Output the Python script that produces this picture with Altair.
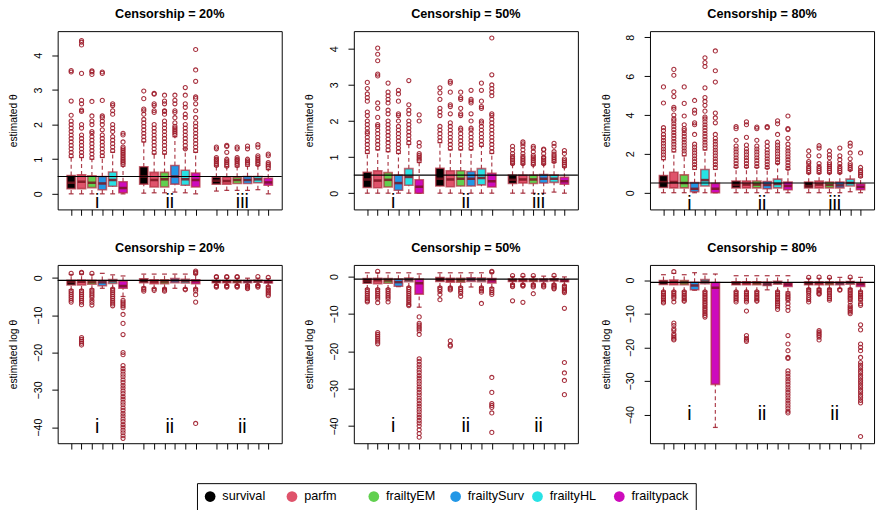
import altair as alt
import pandas as pd

METHODS = ["survival", "parfm", "frailtyEM", "frailtySurv", "frailtyHL", "frailtypack"]
COLORS = ["#000000", "#DF536B", "#61D04F", "#2297E6", "#28E2E5", "#CD0BBC"]
POSITIONS = [1, 2, 3, 4, 5, 6, 8, 9, 10, 11, 12, 13, 15, 16, 17, 18, 19, 20]
GROUP_CENTERS = [3.5, 10.5, 17.5]
TOP_GROUP_LABELS = ["i", "ii", "iii"]
BOTTOM_GROUP_LABELS = ["i", "ii", "ii"]
TITLES = ["Censorship = 20%", "Censorship = 50%", "Censorship = 80%"]

# ---------------- estimated theta, censorship 20% ----------------
T20_LO = [0.0, 0.0, 0.0, 0.0, 0.0, 0.0, 0.02, 0.03, 0.03, 0.05, 0.03, 0.0, 0.08, 0.1, 0.1, 0.1, 0.12, 0.0]
T20_Q1 = [0.15, 0.15, 0.18, 0.12, 0.22, 0.03, 0.28, 0.2, 0.2, 0.28, 0.25, 0.2, 0.28, 0.28, 0.3, 0.3, 0.32, 0.25]
T20_MED = [0.32, 0.35, 0.32, 0.3, 0.4, 0.17, 0.5, 0.4, 0.42, 0.5, 0.42, 0.4, 0.38, 0.37, 0.4, 0.4, 0.42, 0.33]
T20_Q3 = [0.53, 0.55, 0.52, 0.5, 0.63, 0.35, 0.78, 0.62, 0.62, 0.82, 0.68, 0.6, 0.48, 0.48, 0.48, 0.5, 0.5, 0.45]
T20_HI = [1.05, 1.05, 1.0, 1.05, 1.2, 0.8, 1.5, 1.15, 1.15, 1.65, 1.3, 1.2, 0.8, 0.78, 0.78, 0.8, 0.82, 0.7]
T20_OUT = [
    [1.1, 1.2, 1.3, 1.4, 1.5, 1.6, 1.7, 1.8, 1.9, 2.0, 2.1, 2.27, 2.68, 3.52, 3.56],
    [1.1, 1.2, 1.3, 1.4, 1.5, 1.6, 1.7, 1.9, 2.0, 2.38, 2.42, 2.6, 2.7, 3.48, 4.3, 4.38, 4.43],
    [1.05, 1.15, 1.25, 1.35, 1.45, 1.55, 1.65, 1.75, 1.8, 2.0, 2.1, 2.25, 2.67, 3.45, 3.52, 3.55],
    [1.1, 1.2, 1.3, 1.4, 1.5, 1.6, 1.7, 1.85, 2.0, 2.1, 2.2, 2.25, 2.7, 3.48, 3.52],
    [1.25, 1.35, 1.45, 1.55, 1.65, 1.8, 1.9, 2.0, 2.3, 2.4, 2.55, 2.6],
    [0.85, 0.9, 0.95, 1.0, 1.05, 1.1, 1.15, 1.2, 1.25, 1.3, 1.35, 1.5, 1.7, 1.75],
    [1.55, 1.65, 1.75, 1.85, 1.95, 2.05, 2.15, 2.3, 2.4, 2.45, 2.75, 2.97],
    [1.2, 1.3, 1.4, 1.5, 1.6, 1.7, 1.8, 1.9, 2.0, 2.35, 2.4, 2.55, 2.6, 2.88, 2.9],
    [1.2, 1.3, 1.4, 1.5, 1.6, 1.7, 1.8, 1.9, 2.0, 2.1, 2.3, 2.38, 2.4, 2.6, 2.68, 2.85],
    [1.7, 1.75, 1.8, 1.85, 1.9, 1.95, 2.05, 2.2, 2.35, 2.4, 2.6, 2.7, 2.85],
    [1.3, 1.4, 1.5, 1.6, 1.7, 1.8, 1.9, 2.0, 2.2, 2.3, 2.5, 2.6, 2.85, 3.07],
    [1.25, 1.35, 1.45, 1.55, 1.65, 1.75, 1.85, 1.95, 2.05, 2.2, 2.4, 2.6, 2.75, 2.8, 3.25, 3.58, 4.17],
    [0.82, 0.87, 0.92, 0.97, 1.0, 1.05, 1.3, 1.35],
    [0.8, 0.85, 0.9, 0.95, 1.0, 1.2, 1.37, 1.4],
    [0.82, 0.87, 0.92, 0.97, 1.0, 1.05, 1.3, 1.35],
    [0.85, 0.9, 0.95, 1.0, 1.3, 1.38],
    [0.85, 0.9, 0.95, 1.0, 1.05, 1.1, 1.35, 1.42],
    [0.75, 0.8, 0.85, 0.9, 1.1, 1.15],
]

# ---------------- estimated theta, censorship 50% ----------------
T50_LO = [0, 0, 0, 0, 0, 0, 0, 0, 0, 0, 0, 0, 0, 0, 0, 0, 0.03, 0]
T50_Q1 = [0.16, 0.15, 0.17, 0.08, 0.22, 0.0, 0.2, 0.18, 0.2, 0.2, 0.23, 0.17, 0.27, 0.28, 0.27, 0.28, 0.3, 0.25]
T50_MED = [0.38, 0.35, 0.37, 0.28, 0.45, 0.18, 0.4, 0.38, 0.4, 0.4, 0.42, 0.33, 0.37, 0.38, 0.38, 0.4, 0.4, 0.33]
T50_Q3 = [0.58, 0.62, 0.57, 0.5, 0.68, 0.37, 0.69, 0.62, 0.62, 0.6, 0.68, 0.55, 0.5, 0.5, 0.5, 0.52, 0.5, 0.44]
T50_HI = [1.1, 1.2, 1.15, 1.1, 1.35, 0.85, 1.4, 1.2, 1.2, 1.2, 1.3, 1.1, 0.8, 0.8, 0.78, 0.8, 0.85, 0.72]
T50_OUT = [
    [1.15, 1.25, 1.35, 1.45, 1.55, 1.65, 1.7, 1.8, 1.9, 2.0, 2.15, 2.25, 2.55, 2.65, 2.75, 2.9, 3.07],
    [1.25, 1.35, 1.45, 1.55, 1.65, 1.75, 1.85, 1.9, 2.1, 2.35, 2.5, 3.25, 3.3, 3.67, 3.85, 4.02],
    [1.2, 1.3, 1.4, 1.5, 1.6, 1.7, 1.8, 1.9, 2.0, 2.2, 2.3, 2.5, 2.6, 2.7, 2.8, 3.05],
    [1.15, 1.25, 1.35, 1.45, 1.55, 1.65, 1.75, 1.85, 2.0, 2.15, 2.2, 2.55, 2.75, 2.85],
    [1.4, 1.5, 1.6, 1.7, 1.8, 1.9, 2.0, 2.2, 2.3, 2.45, 3.12],
    [0.9, 0.95, 1.0, 1.05, 1.1, 1.3, 1.4, 2.0, 2.17],
    [1.45, 1.55, 1.65, 1.75, 1.85, 2.15, 2.25, 2.35, 2.6, 2.78, 2.92],
    [1.25, 1.35, 1.45, 1.55, 1.65, 1.75, 1.85, 1.95, 2.2, 2.4, 2.45, 2.8, 3.05, 3.1],
    [1.25, 1.35, 1.45, 1.55, 1.65, 1.75, 1.8, 2.15, 2.2, 2.35, 2.6, 2.65, 2.8],
    [1.25, 1.35, 1.45, 1.55, 1.65, 1.75, 1.8, 2.0, 2.2, 2.5, 2.55, 2.6, 2.85],
    [1.35, 1.45, 1.55, 1.65, 1.75, 1.85, 1.95, 2.0, 2.35, 2.4, 2.55, 2.85, 3.05],
    [1.15, 1.25, 1.35, 1.45, 1.55, 1.65, 1.75, 1.85, 1.95, 2.05, 2.15, 2.2, 2.7, 2.8, 2.9, 3.0, 3.28, 4.3],
    [0.82, 0.87, 0.92, 0.97, 1.02, 1.1, 1.2, 1.3],
    [0.82, 0.87, 0.92, 0.97, 1.02, 1.1, 1.2, 1.3, 1.37, 1.42],
    [0.8, 0.85, 0.9, 0.95, 1.0, 1.05, 1.15, 1.25, 1.3],
    [0.82, 0.87, 0.92, 0.97, 1.0, 1.1, 1.2, 1.22],
    [0.88, 0.93, 0.98, 1.03, 1.08, 1.15, 1.3, 1.38],
    [0.75, 0.8, 0.85, 0.9, 0.95, 1.1, 1.18],
]

# ---------------- estimated theta, censorship 80% ----------------
T80_LO = [0, 0, 0, 0, 0, 0, 0, 0, 0, 0, 0, 0, 0, 0, 0, 0, 0.05, 0]
T80_Q1 = [0.27, 0.25, 0.25, 0.05, 0.35, 0.0, 0.25, 0.25, 0.25, 0.2, 0.25, 0.15, 0.25, 0.25, 0.25, 0.25, 0.35, 0.15]
T80_MED = [0.55, 0.55, 0.5, 0.2, 0.65, 0.2, 0.4, 0.42, 0.42, 0.4, 0.45, 0.35, 0.35, 0.42, 0.4, 0.38, 0.5, 0.3]
T80_Q3 = [0.89, 1.05, 0.92, 0.52, 1.2, 0.48, 0.6, 0.6, 0.6, 0.58, 0.7, 0.55, 0.55, 0.6, 0.55, 0.55, 0.7, 0.45]
T80_HI = [1.7, 2.1, 1.9, 1.2, 2.2, 1.2, 1.3, 1.3, 1.3, 1.25, 1.5, 1.2, 1.0, 1.0, 1.0, 1.0, 1.15, 0.8]
T80_OUT = [
    [1.8, 1.95, 2.1, 2.25, 2.4, 2.55, 2.7, 2.85, 3.0, 3.2, 3.35, 4.62, 5.45],
    [2.2, 2.35, 2.5, 2.65, 2.8, 2.95, 3.1, 3.25, 3.4, 3.55, 3.7, 3.8, 4.0, 4.3, 4.4, 4.95, 5.2, 6.05, 6.35],
    [2.0, 2.15, 2.3, 2.45, 2.6, 2.75, 2.9, 3.05, 3.2, 3.3, 3.5, 3.95, 4.6, 5.45],
    [1.3, 1.45, 1.6, 1.75, 1.9, 2.05, 2.2, 2.35, 2.5, 3.0, 3.5, 3.6, 4.1, 4.25, 4.75],
    [2.3, 2.45, 2.6, 2.75, 2.9, 3.05, 3.2, 3.35, 3.5, 3.65, 3.8, 3.9, 4.2, 4.5, 4.7, 4.9, 5.4, 6.5, 6.7, 6.95],
    [1.3, 1.45, 1.6, 1.75, 1.9, 2.05, 2.2, 2.35, 2.5, 2.65, 2.8, 3.0, 3.6, 3.85, 4.1, 5.7, 6.28, 7.3],
    [1.35, 1.5, 1.65, 1.8, 1.95, 2.1, 2.25, 2.4, 2.7, 3.3, 3.4],
    [1.35, 1.5, 1.65, 1.8, 1.95, 2.1, 2.25, 2.45, 2.85, 3.5, 3.65],
    [1.35, 1.5, 1.65, 1.8, 1.95, 2.1, 2.25, 2.4, 2.7, 3.3, 3.38],
    [1.3, 1.45, 1.6, 1.75, 1.9, 2.05, 2.2, 2.4, 2.6, 3.35, 3.4],
    [1.55, 1.7, 1.85, 2.0, 2.15, 2.3, 2.45, 2.6, 3.0, 3.55, 3.7],
    [1.25, 1.4, 1.55, 1.7, 1.85, 2.0, 2.15, 2.3, 2.5, 2.8, 3.25, 3.3, 3.95],
    [1.05, 1.15, 1.25, 1.35, 1.5, 1.6, 1.9, 2.15],
    [1.05, 1.15, 1.25, 1.35, 1.5, 1.9, 2.3, 2.42],
    [1.05, 1.15, 1.25, 1.35, 1.45, 1.55, 1.8, 1.95, 2.15],
    [1.05, 1.15, 1.25, 1.35, 1.5, 1.7, 1.9, 2.3],
    [1.2, 1.3, 1.4, 1.5, 1.75, 2.05, 2.4, 2.55],
    [0.85, 0.95, 1.05, 1.15, 1.3, 2.05],
]

# ---------------- estimated log theta, censorship 20% ----------------
L20_LO = [-3.2, -3.2, -3.0, -2.8, -2.8, -5.0, -2.5, -2.8, -2.8, -2.8, -2.8, -2.8, -1.9, -1.9, -1.9, -1.9, -1.9, -2.2]
L20_Q1 = [-1.9, -1.9, -1.7, -2.1, -1.5, -2.8, -1.3, -1.6, -1.6, -1.3, -1.4, -1.6, -1.3, -1.3, -1.3, -1.3, -1.2, -1.4]
L20_MED = [-1.15, -1.05, -1.15, -1.2, -0.9, -2.2, -0.7, -1.0, -1.0, -0.7, -0.85, -0.9, -0.95, -0.95, -0.95, -0.95, -0.9, -1.1]
L20_Q3 = [-0.63, -0.6, -0.65, -0.7, -0.45, -0.9, -0.25, -0.5, -0.5, -0.2, -0.4, -0.5, -0.7, -0.7, -0.7, -0.7, -0.65, -0.8]
L20_HI = [0.9, 1.0, 0.9, 1.2, 0.8, 0.5, 1.0, 1.0, 1.0, 1.0, 1.0, 0.9, -0.1, -0.1, -0.1, -0.1, -0.1, -0.2]
L20_OUT = [
    [1.2, -3.5, -4.0, -4.5, -5.0, -5.5, -6.0, -6.5],
    [1.3, 1.5, -3.5, -4.0, -4.5, -5.0, -5.5, -6.0, -6.5, -7.2, -16.0, -16.5, -17.0, -17.5, -18.0],
    [1.2, -3.3, -3.8, -4.3, -4.8, -5.3, -6.0, -6.6, -7.3],
    [],
    [-3.0, -3.5, -4.0, -4.5, -5.0, -5.5, -6.0, -6.5, -7.0, -7.5],
    [-6.0, -6.5, -7.0, -7.5, -8.0, -9.8, -12.2, -15.2, -20.0, -20.6, -23.5, -24.3, -25.0, -25.8, -26.5,
     -27.3, -28.0, -28.8, -29.5, -30.3, -31.0, -31.8, -32.5, -33.3, -34.0, -34.8, -35.5, -36.3, -37.0,
     -37.8, -38.5, -39.3, -40.0, -40.8, -41.5, -42.3, -43.0],
    [-2.8, -3.2, -3.6],
    [-3.0, -3.4],
    [-3.0, -3.3, -3.6],
    [],
    [-3.0, -3.2],
    [1.2, 1.5, 1.8, -3.0, -3.5, -4.5, -6.5, -39.0],
    [0.2, 0.3, -2.1, -2.3, -2.5],
    [0.2, 0.3, -2.1, -2.3, -2.5],
    [0.2, 0.3, -2.1, -2.3, -2.5],
    [-2.1, -2.4, -2.7, -2.9],
    [0.35, -2.0, -2.2, -2.5],
    [0.1, -2.4, -2.8, -3.2, -3.6, -4.0, -4.4, -4.8],
]

# ---------------- estimated log theta, censorship 50% ----------------
L50_LO = [-3.3, -3.3, -3.3, -2.7, -2.8, -8.2, -2.8, -2.8, -2.8, -2.8, -2.8, -3.0, -2.0, -2.0, -2.0, -2.0, -2.0, -2.3]
L50_Q1 = [-1.8, -1.9, -1.8, -2.6, -1.4, -4.7, -1.3, -1.5, -1.5, -1.3, -1.4, -1.7, -1.3, -1.3, -1.3, -1.3, -1.2, -1.4]
L50_MED = [-1.15, -1.0, -1.05, -1.5, -0.85, -1.8, -0.75, -1.0, -1.0, -0.8, -0.85, -1.0, -0.95, -0.95, -0.95, -0.95, -0.9, -1.1]
L50_Q3 = [-0.55, -0.5, -0.55, -0.7, -0.4, -0.7, -0.25, -0.5, -0.5, -0.3, -0.4, -0.55, -0.65, -0.65, -0.65, -0.65, -0.6, -0.8]
L50_HI = [1.0, 1.0, 1.0, 1.0, 1.0, 0.7, 1.0, 1.0, 1.0, 1.0, 1.0, 1.0, 0.0, 0.0, 0.0, 0.1, 0.0, -0.1]
L50_OUT = [
    [-3.5, -4.0, -4.5, -5.0, -5.5, -6.0, -6.5, -6.8],
    [1.4, -3.5, -4.0, -4.5, -5.0, -5.5, -6.0, -7.0, -15.0, -15.5, -16.0, -16.5, -17.0, -17.5, -18.0],
    [-3.5, -4.0, -4.5, -5.0, -5.5, -6.0, -6.8],
    [],
    [-3.0, -3.5, -4.0, -4.5, -5.0, -5.5, -6.0, -6.5, -7.0, -7.5, -7.8],
    [-10.8, -12.5, -13.0, -13.5, -14.0, -14.5, -15.5, -22.0, -22.7, -23.5, -24.2, -25.0, -25.7, -26.5,
     -27.2, -28.0, -28.7, -29.5, -30.2, -31.0, -31.7, -32.5, -33.2, -34.0, -34.7, -35.5, -36.2, -37.0,
     -37.7, -38.5, -39.2, -40.0, -41.0, -42.0, -43.0],
    [-3.0, -3.5, -4.0, -4.8, -6.2],
    [-3.0, -3.3, -3.6, -17.2, -18.3, -18.6],
    [-3.0, -3.5, -4.0, -4.5, -5.3],
    [],
    [-3.0, -3.4, -3.8, -4.2, -7.2],
    [1.2, 1.4, -3.3, -3.8, -4.3, -4.8, -27.0, -31.0, -34.0, -34.5, -35.0, -36.5, -41.7],
    [0.25, -2.2, -2.5, -2.7, -6.5],
    [0.3, -2.2, -2.4, -2.6, -6.9],
    [0.25, -2.2, -2.5, -2.8, -4.6],
    [-2.2, -2.5, -2.8],
    [0.3, -2.2, -2.5, -2.8, -3.1, -3.3],
    [-2.5, -2.9, -3.3, -3.7, -4.0, -4.3, -8.5, -23.0, -25.8, -27.8, -31.6],
]

# ---------------- estimated log theta, censorship 80% ----------------
L80_LO = [-3.3, -3.3, -3.3, -3.0, -3.3, -43.8, -3.3, -3.3, -3.3, -2.9, -3.3, -3.5, -2.5, -2.5, -2.5, -2.5, -2.5, -3.3]
L80_Q1 = [-1.3, -1.4, -1.4, -2.9, -1.05, -31.0, -1.4, -1.4, -1.4, -1.6, -1.2, -1.9, -1.4, -1.4, -1.4, -1.4, -1.2, -1.9]
L80_MED = [-0.6, -0.6, -0.7, -1.6, -0.45, -2.3, -0.9, -0.85, -0.85, -1.2, -0.8, -1.3, -0.85, -0.85, -0.85, -0.9, -0.7, -1.2]
L80_Q3 = [-0.12, 0.05, -0.1, -0.65, 0.2, -0.7, -0.5, -0.5, -0.5, -0.6, -0.35, -0.8, -0.55, -0.55, -0.55, -0.6, -0.4, -0.7]
L80_HI = [1.6, 2.0, 1.6, 2.2, 1.8, 1.8, 1.3, 1.3, 1.3, 1.3, 1.3, 1.3, 0.5, 0.5, 0.5, 0.8, 0.5, 0.8]
L80_OUT = [
    [-3.5, -4.0, -4.5, -5.0, -5.5, -6.0, -6.5, -6.8],
    [2.5, -3.5, -4.0, -4.5, -5.0, -5.5, -6.5, -12.8, -13.5, -14.5, -15.0, -16.0, -16.5, -17.0, -17.5, -17.8],
    [-3.5, -4.0, -4.5, -5.0, -5.5, -6.0, -6.3],
    [],
    [-3.5, -4.0, -4.5, -5.0, -5.5, -6.0, -6.5, -7.0, -7.5, -8.0, -8.5, -9.0, -9.5, -10.0, -10.5, -11.0],
    [],
    [-3.5, -4.0, -4.5, -5.0, -5.5, -6.0, -6.5],
    [-3.5, -4.0, -4.5, -5.0, -5.5, -6.0, -6.5, -9.2, -16.5, -17.3, -17.8, -18.2],
    [-3.5, -4.0, -4.5, -5.0, -5.5, -6.0, -6.3],
    [],
    [-3.5, -4.0, -4.5, -5.0, -5.5, -6.0, -6.5, -7.0, -7.5, -8.0, -8.7],
    [-4.0, -4.5, -5.0, -5.5, -6.0, -7.0, -8.0, -9.0, -16.5, -19.0, -21.0, -23.0, -23.3, -27.0, -27.8,
     -28.6, -29.4, -30.2, -31.0, -31.8, -32.6, -33.4, -34.2, -35.0, -35.8, -36.6, -37.4, -38.2, -39.0, -39.5],
    [0.8, -2.8, -3.3, -3.8, -4.5, -5.2, -5.8, -6.5],
    [0.9, -2.8, -3.2, -3.6, -4.0, -4.2, -15.0, -15.5, -16.0, -16.5, -17.0, -17.8],
    [0.8, -2.8, -3.3, -3.8, -4.4, -5.0, -5.5, -6.0],
    [-2.8, -3.0],
    [0.9, -2.8, -3.3, -3.8, -4.3, -4.8, -5.3, -5.8, -6.5, -7.5, -8.0, -8.5, -9.0, -9.5, -10.0],
    [-3.5, -4.0, -4.5, -5.0, -5.5, -6.0, -7.0, -7.5, -13.3, -14.8, -19.0, -20.0, -21.0, -23.0, -24.5,
     -25.3, -26.0, -26.8, -27.5, -28.3, -29.0, -29.8, -30.5, -31.3, -32.0, -32.8, -33.5, -34.3, -35.0,
     -35.8, -36.5, -46.5],
]

# axis settings per panel
TOP_DOMAINS = [[-0.45, 4.70], [-0.45, 4.49], [-0.86, 8.32]]
TOP_TICKS = [[0, 1, 2, 3, 4], [0, 1, 2, 3, 4], [0, 2, 4, 6, 8]]
TOP_LABEL_Y = [-0.25, -0.25, -0.6]
BOT_DOMAINS = [[-44.3, 3.45], [-44.6, 3.1], [-48.5, 4.5]]
BOT_TICKS = [[0, -10, -20, -30, -40]] * 3
BOT_LABEL_Y = [-40, -40, -40]
REF_TOP = 0.5
REF_BOT = -0.693

DARK = "#9E1B2A"
BORDER = "#B0283A"
FONT = "Liberation Sans"
W, H = 230, 183


def panel(title, ytitle, lo, q1, med, q3, hi, out, domain, ticks, ref, label_y, labels):
    box_df = pd.DataFrame({
        "pos": POSITIONS, "method": METHODS * 3,
        "lo": lo, "q1": q1, "med": med, "q3": q3, "hi": hi,
    })
    out_df = pd.DataFrame(
        [{"pos": POSITIONS[i], "method": METHODS[i % 6], "v": v} for i in range(18) for v in out[i]]
    )
    lab_df = pd.DataFrame({"cx": GROUP_CENTERS, "ly": [label_y] * 3, "label": labels})
    ref_df = pd.DataFrame({"ref": [ref]})

    xscale = alt.Scale(domain=[-0.3, 21.3], nice=False, zero=False)
    xaxis = alt.Axis(values=POSITIONS, labels=False, ticks=True, tickSize=6, domain=False,
                     grid=False, title=None, tickColor="black", tickWidth=1)
    yscale = alt.Scale(domain=domain, nice=False, zero=False)
    yaxis = alt.Axis(values=ticks, title=ytitle, labelAngle=270, labelAlign="center",
                     labelBaseline="bottom", grid=False, domain=False, tickSize=6,
                     labelPadding=9, titlePadding=14, tickColor="black")

    def X(field):
        return alt.X(field, scale=xscale, axis=xaxis)

    def Y(field):
        return alt.Y(field, scale=yscale, axis=yaxis)

    base = alt.Chart(box_df)
    whisk_lo = base.mark_rule(strokeDash=[4, 3], color=DARK, strokeWidth=1.2, opacity=0.85).encode(
        x=X("pos:Q"), y=Y("lo:Q"), y2="q1:Q")
    whisk_hi = base.mark_rule(strokeDash=[4, 3], color=DARK, strokeWidth=1.2, opacity=0.85).encode(
        x=X("pos:Q"), y=Y("q3:Q"), y2="hi:Q")
    cap_lo = base.mark_tick(orient="horizontal", size=5, thickness=1.3, color=DARK, opacity=0.85).encode(
        x=X("pos:Q"), y=Y("lo:Q"))
    cap_hi = base.mark_tick(orient="horizontal", size=5, thickness=1.3, color=DARK, opacity=0.85).encode(
        x=X("pos:Q"), y=Y("hi:Q"))
    boxes = base.transform_calculate(
        x1="datum.pos - 0.4", x2="datum.pos + 0.4"
    ).mark_rect(stroke=BORDER, strokeWidth=1.6, strokeOpacity=0.7).encode(
        x=X("x1:Q"), x2="x2:Q", y=Y("q1:Q"), y2="q3:Q",
        fill=alt.Fill("method:N", scale=alt.Scale(domain=METHODS, range=COLORS),
                      legend=alt.Legend(
                          title=None, orient="none", legendX=143, legendY=464,
                          direction="horizontal", columns=6, symbolType="circle",
                          symbolSize=121, symbolStrokeWidth=0, symbolOpacity=1,
                          labelFontSize=13, labelFont=FONT, labelColor="black",
                          strokeColor="black", padding=7, gridAlign="all",
                          columnPadding=6, labelOffset=6)),
    )
    medians = base.mark_tick(orient="horizontal", size=8, thickness=2.6, color="#7A1420", opacity=0.85).encode(
        x=X("pos:Q"), y=Y("med:Q"))
    outliers = alt.Chart(out_df).mark_point(shape="circle", filled=False, size=18, strokeWidth=1.1,
                                            color=DARK, opacity=0.9).encode(
        x=X("pos:Q"), y=Y("v:Q"))
    refline = alt.Chart(ref_df).mark_rule(color="black", strokeWidth=1.2).encode(y=Y("ref:Q"))
    texts = alt.Chart(lab_df).mark_text(fontSize=20, font=FONT, baseline="middle", color="#000000").encode(
        x=X("cx:Q"), y=Y("ly:Q"), text="label:N")

    return alt.layer(whisk_lo, whisk_hi, cap_lo, cap_hi, boxes, medians, outliers, refline, texts).properties(
        width=W, height=H, title=title)


top_data = [
    (T20_LO, T20_Q1, T20_MED, T20_Q3, T20_HI, T20_OUT),
    (T50_LO, T50_Q1, T50_MED, T50_Q3, T50_HI, T50_OUT),
    (T80_LO, T80_Q1, T80_MED, T80_Q3, T80_HI, T80_OUT),
]
bot_data = [
    (L20_LO, L20_Q1, L20_MED, L20_Q3, L20_HI, L20_OUT),
    (L50_LO, L50_Q1, L50_MED, L50_Q3, L50_HI, L50_OUT),
    (L80_LO, L80_Q1, L80_MED, L80_Q3, L80_HI, L80_OUT),
]

top_row = alt.hconcat(*[
    panel(TITLES[k], "estimated θ", *top_data[k], TOP_DOMAINS[k], TOP_TICKS[k], REF_TOP,
          TOP_LABEL_Y[k], TOP_GROUP_LABELS)
    for k in range(3)
], spacing=21)
bot_row = alt.hconcat(*[
    panel(TITLES[k], "estimated log θ", *bot_data[k], BOT_DOMAINS[k], BOT_TICKS[k], REF_BOT,
          BOT_LABEL_Y[k], BOTTOM_GROUP_LABELS)
    for k in range(3)
], spacing=21)

chart = alt.vconcat(top_row, bot_row, spacing=26).properties(
    padding={"left": 0, "top": -7, "right": 0, "bottom": 0}
).configure_view(
    stroke="black", strokeWidth=1
).configure_title(
    fontSize=13, font=FONT, fontWeight="bold", offset=10, anchor="middle", color="black"
).configure_axis(
    labelFont=FONT, titleFont=FONT, labelFontSize=11, titleFontSize=10.5,
    titleFontWeight="normal", labelColor="black", titleColor="black"
)

chart.save("out.html", embed_options={"renderer": "svg", "actions": False})
